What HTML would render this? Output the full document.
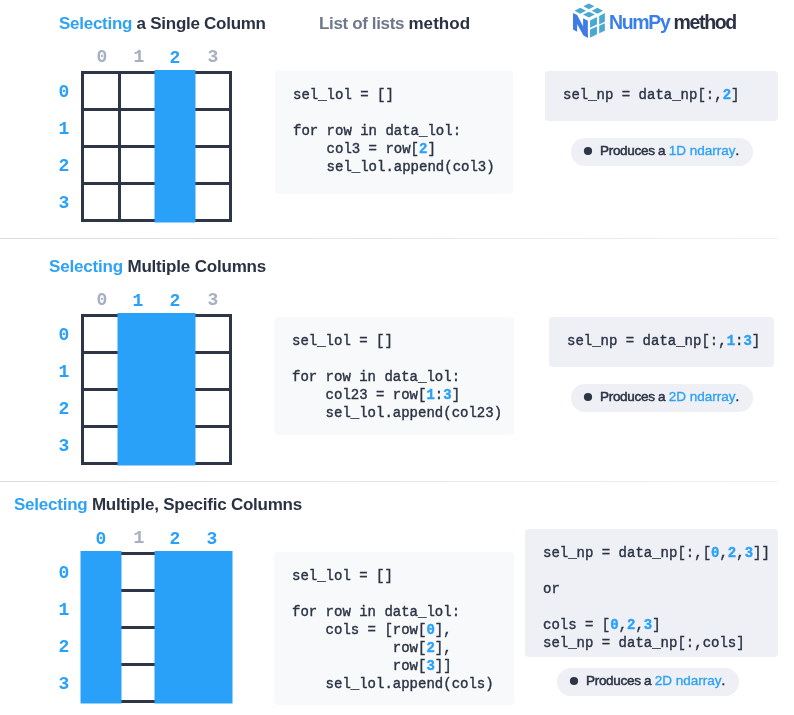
<!DOCTYPE html>
<html><head><meta charset="utf-8"><style>
html,body{margin:0;padding:0}
.h,.cl,.code,.pill{will-change:transform}
.code{-webkit-text-stroke-width:0.4px}
body{width:794px;height:715px;background:#fff;position:relative;overflow:hidden}
.h{position:absolute;font:bold 17px "Liberation Sans",sans-serif;line-height:20px;color:#2a3244;white-space:pre;letter-spacing:-0.35px}
.bl{color:#2ea2f3}
.gr{color:#6f778a}
.np{color:#3a7fe6}
.cl{position:absolute;width:20px;text-align:center;font:bold 18px "Liberation Mono",monospace;line-height:20px}
.lb{color:#2aa1f8}
.lg{color:#a7afc2}
.code{position:absolute;margin:0;font:14px "Liberation Mono",monospace;line-height:18px;color:#2b3445;white-space:pre}
.b{color:#2aa1f8;font-weight:bold}
.pill{position:absolute;font:13.5px "Liberation Sans",sans-serif;line-height:16px;color:#2a3244;white-space:pre;letter-spacing:-0.3px;-webkit-text-stroke-width:0.5px}
.pill span{color:#2ea2f3;letter-spacing:0px;-webkit-text-stroke-width:0.35px}
</style></head><body>
<svg width="794" height="715" style="position:absolute;left:0;top:0">
<defs><linearGradient id="sg" x1="0" x2="1" y1="0" y2="0"><stop offset="0" stop-color="#d8dce6"/><stop offset="1" stop-color="#eff0f4"/></linearGradient></defs>
<rect x="0" y="238" width="778" height="1" fill="url(#sg)"/>
<rect x="0" y="481" width="778" height="1" fill="url(#sg)"/>
<rect x="275" y="71" width="238" height="123" rx="4" fill="#f8f9fb"/>
<rect x="545" y="71" width="233" height="50" rx="4" fill="#eff0f5"/>
<rect x="571" y="138" width="182" height="28" rx="14" fill="#eff0f5"/>
<rect x="274" y="317" width="240" height="118" rx="4" fill="#f8f9fb"/>
<rect x="549" y="317" width="225" height="50" rx="4" fill="#eff0f5"/>
<rect x="571" y="384" width="182" height="28" rx="14" fill="#eff0f5"/>
<rect x="274" y="552" width="240" height="153" rx="4" fill="#f8f9fb"/>
<rect x="525" y="529" width="253" height="128" rx="4" fill="#eff0f5"/>
<rect x="557" y="668" width="182" height="28" rx="14" fill="#eff0f5"/>
<circle cx="588" cy="151" r="4.1" fill="#2d3547"/>
<circle cx="588" cy="397" r="4.1" fill="#2d3547"/>
<circle cx="574" cy="681" r="4.1" fill="#2d3547"/>
<rect x="81" y="71" width="3" height="151" fill="#2d3547"/>
<rect x="81" y="71" width="151" height="3" fill="#2d3547"/>
<rect x="118" y="71" width="3" height="151" fill="#2d3547"/>
<rect x="81" y="108" width="151" height="3" fill="#2d3547"/>
<rect x="155" y="71" width="3" height="151" fill="#2d3547"/>
<rect x="81" y="145" width="151" height="3" fill="#2d3547"/>
<rect x="192" y="71" width="3" height="151" fill="#2d3547"/>
<rect x="81" y="182" width="151" height="3" fill="#2d3547"/>
<rect x="229" y="71" width="3" height="151" fill="#2d3547"/>
<rect x="81" y="219" width="151" height="3" fill="#2d3547"/>
<rect x="154.5" y="70" width="41.0" height="152.5" fill="#2aa1f8"/>
<rect x="81" y="314" width="3" height="151" fill="#2d3547"/>
<rect x="81" y="314" width="151" height="3" fill="#2d3547"/>
<rect x="118" y="314" width="3" height="151" fill="#2d3547"/>
<rect x="81" y="351" width="151" height="3" fill="#2d3547"/>
<rect x="155" y="314" width="3" height="151" fill="#2d3547"/>
<rect x="81" y="388" width="151" height="3" fill="#2d3547"/>
<rect x="192" y="314" width="3" height="151" fill="#2d3547"/>
<rect x="81" y="425" width="151" height="3" fill="#2d3547"/>
<rect x="229" y="314" width="3" height="151" fill="#2d3547"/>
<rect x="81" y="462" width="151" height="3" fill="#2d3547"/>
<rect x="117.5" y="313" width="78.0" height="152.5" fill="#2aa1f8"/>
<rect x="81" y="552" width="3" height="151" fill="#2d3547"/>
<rect x="81" y="552" width="151" height="3" fill="#2d3547"/>
<rect x="118" y="552" width="3" height="151" fill="#2d3547"/>
<rect x="81" y="589" width="151" height="3" fill="#2d3547"/>
<rect x="155" y="552" width="3" height="151" fill="#2d3547"/>
<rect x="81" y="626" width="151" height="3" fill="#2d3547"/>
<rect x="192" y="552" width="3" height="151" fill="#2d3547"/>
<rect x="81" y="663" width="151" height="3" fill="#2d3547"/>
<rect x="229" y="552" width="3" height="151" fill="#2d3547"/>
<rect x="81" y="700" width="151" height="3" fill="#2d3547"/>
<rect x="80.5" y="551" width="41.0" height="152.5" fill="#2aa1f8"/>
<rect x="154.5" y="551" width="78.0" height="152.5" fill="#2aa1f8"/>
<g transform="translate(568,0) scale(0.06297)">
<polygon fill="#4aa9d2" points="243,100 331,57 419,100 331,145"/>
<polygon fill="#4aa9d2" points="103,172 195,124 287,172 195,220"/>
<polygon fill="#4aa9d2" points="378,172 467,124 557,172 467,220"/>
<polygon fill="#4aa9d2" points="238,232 332,186 427,232 332,277"/>
<polygon fill="#4aa9d2" points="350,325 460,270 460,390 350,440"/>
<polygon fill="#4aa9d2" points="495,255 585,208 585,345 495,390"/>
<polygon fill="#4aa9d2" points="350,470 460,420 460,545 350,600"/>
<polygon fill="#4aa9d2" points="495,410 585,370 585,490 495,530"/>
<polygon fill="#3d7ce4" points="80,205 145,238 315,560 315,600 240,555 145,380 145,505 80,470"/>
<polygon fill="#3d7ce4" points="240,290 315,330 315,600 240,555"/>
</g>
</svg>
<div class="h" style="left:59px;top:14px;letter-spacing:-0.27px"><span class="bl">Selecting</span> a Single Column</div>
<div class="h" style="left:319px;top:14px;letter-spacing:0.07px"><span class="gr" style="letter-spacing:-0.36px">List of lists </span>method</div>
<div class="h" style="left:609px;top:12px;font-size:19.5px;letter-spacing:-1.35px"><span class="np">NumPy</span> method</div>
<div class="h" style="left:49px;top:257px;letter-spacing:-0.19px"><span class="bl">Selecting</span> Multiple Columns</div>
<div class="h" style="left:14px;top:495px;letter-spacing:-0.24px"><span class="bl">Selecting</span> Multiple, Specific Columns</div>
<div class="cl lg" style="left:92px;top:47px">0</div>
<div class="cl lg" style="left:129px;top:47px">1</div>
<div class="cl lb" style="left:165px;top:48px">2</div>
<div class="cl lg" style="left:203px;top:47px">3</div>
<div class="cl lb" style="left:54px;top:82px">0</div>
<div class="cl lb" style="left:54px;top:119px">1</div>
<div class="cl lb" style="left:54px;top:156px">2</div>
<div class="cl lb" style="left:54px;top:193px">3</div>
<div class="cl lg" style="left:92px;top:290px">0</div>
<div class="cl lb" style="left:128px;top:291px">1</div>
<div class="cl lb" style="left:165px;top:291px">2</div>
<div class="cl lg" style="left:203px;top:290px">3</div>
<div class="cl lb" style="left:54px;top:325px">0</div>
<div class="cl lb" style="left:54px;top:362px">1</div>
<div class="cl lb" style="left:54px;top:399px">2</div>
<div class="cl lb" style="left:54px;top:436px">3</div>
<div class="cl lb" style="left:91px;top:529px">0</div>
<div class="cl lg" style="left:129px;top:528px">1</div>
<div class="cl lb" style="left:165px;top:529px">2</div>
<div class="cl lb" style="left:202px;top:529px">3</div>
<div class="cl lb" style="left:54px;top:563px">0</div>
<div class="cl lb" style="left:54px;top:600px">1</div>
<div class="cl lb" style="left:54px;top:637px">2</div>
<div class="cl lb" style="left:54px;top:674px">3</div>
<pre class="code" style="left:293px;top:86px">sel_lol = []

for row in data_lol:
    col3 = row[<span class="b">2</span>]
    sel_lol.append(col3)</pre>
<pre class="code" style="left:563px;top:86px">sel_np = data_np[:,<span class="b">2</span>]</pre>
<pre class="code" style="left:292px;top:332px">sel_lol = []

for row in data_lol:
    col23 = row[<span class="b">1</span>:<span class="b">3</span>]
    sel_lol.append(col23)</pre>
<pre class="code" style="left:567px;top:332px">sel_np = data_np[:,<span class="b">1</span>:<span class="b">3</span>]</pre>
<pre class="code" style="left:292px;top:567px">sel_lol = []

for row in data_lol:
    cols = [row[<span class="b">0</span>],
            row[<span class="b">2</span>],
            row[<span class="b">3</span>]]
    sel_lol.append(cols)</pre>
<pre class="code" style="left:543px;top:544px">sel_np = data_np[:,[<span class="b">0</span>,<span class="b">2</span>,<span class="b">3</span>]]

or

cols = [<span class="b">0</span>,<span class="b">2</span>,<span class="b">3</span>]
sel_np = data_np[:,cols]</pre>
<div class="pill" style="left:600px;top:143px">Produces a <span>1D ndarray</span>.</div>
<div class="pill" style="left:600px;top:389px">Produces a <span>2D ndarray</span>.</div>
<div class="pill" style="left:586px;top:673px">Produces a <span>2D ndarray</span>.</div>
</body></html>
